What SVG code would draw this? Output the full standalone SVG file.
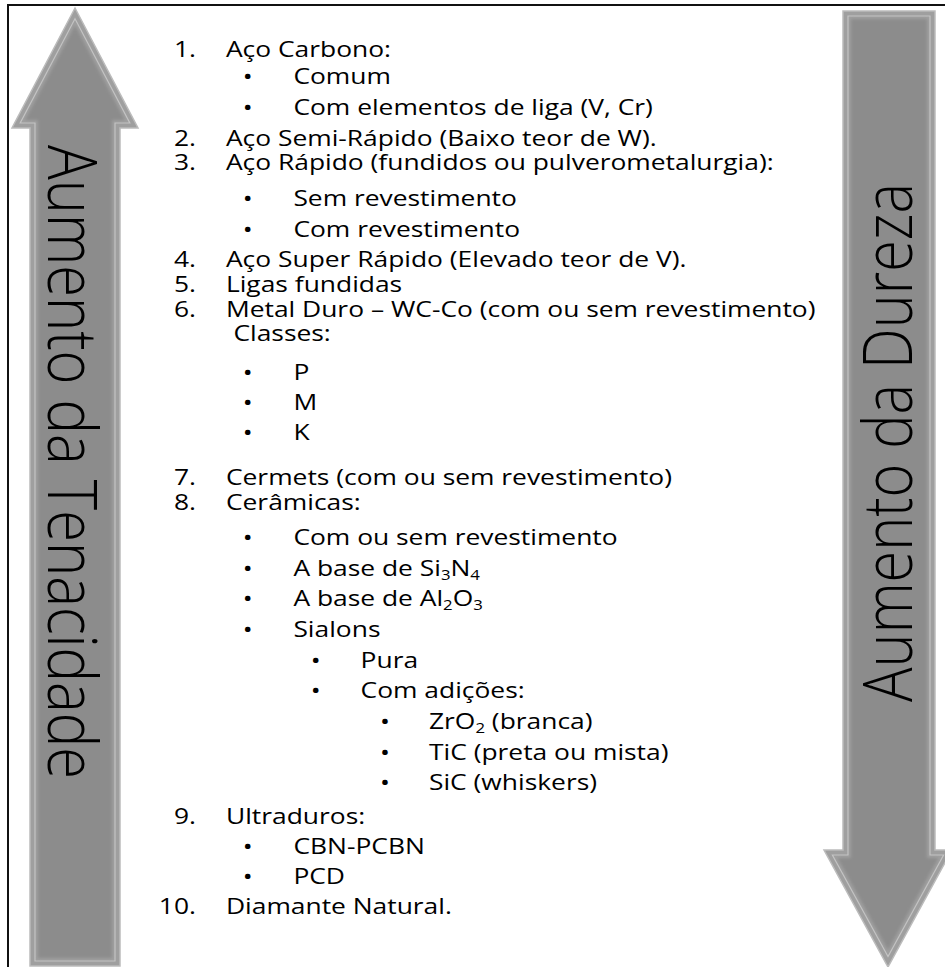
<svg xmlns="http://www.w3.org/2000/svg" width="945" height="967" viewBox="0 0 945 967">
  <style>
    .item { font-family: "Open Sans", "Liberation Sans", sans-serif; font-size: 22px; fill: #000; }
    .num { text-anchor: end; }
    .dot { text-anchor: middle; }
    .sub { font-size: 14px; }
    .big { font-family: "Open Sans", "Liberation Sans", sans-serif; font-weight: 300; font-size: 57px; fill: #000; }
    .arrow-edge { fill: #9f9f9f; stroke: #bcbcbc; stroke-width: 1.5; stroke-linejoin: miter; }
    .arrow-hl { fill: none; stroke: #c4c4c4; stroke-width: 1.2; }
    .arrow-core { fill: #8c8c8c; filter: url(#soft); }
  </style>
  <defs>
    <filter id="soft" x="-10%" y="-10%" width="120%" height="120%">
      <feGaussianBlur stdDeviation="1.8"/>
    </filter>
  </defs>

  <rect width="945" height="967" fill="#fff"/>
  <!-- frame -->
  <rect x="8" y="5" width="950" height="975" fill="none" stroke="#111" stroke-width="2"/>

  <!-- toughness arrow (up) -->
  <g id="arrow-tenacidade">
    <path class="arrow-edge" d="M75,8 L138,128 L120,128 L120,966 L30,966 L30,128 L12,128 Z"/>
    <path class="arrow-hl" d="M75,18.7 L129.8,123 L115,123 L115,961 L35,961 L35,123 L20.2,123 Z"/>
    <path class="arrow-core" d="M75,25.2 L124.8,120 L112,120 L112,958 L38,958 L38,120 L25.2,120 Z"/>
    <text class="big" transform="translate(48,145) scale(1.2,1) rotate(90)" textLength="634" lengthAdjust="spacingAndGlyphs">Aumento da Tenacidade</text>
  </g>

  <!-- hardness arrow (down) -->
  <g id="arrow-dureza">
    <path class="arrow-edge" d="M843,11 L935,11 L935,850 L952,850 L888,967 L824,850 L843,850 Z"/>
    <path class="arrow-hl" d="M848,16 L930,16 L930,855 L943.6,855 L888,956.6 L832.4,855 L848,855 Z"/>
    <path class="arrow-core" d="M851,19 L927,19 L927,858 L938.5,858 L888,950.3 L837.5,858 L851,858 Z"/>
    <text class="big" transform="translate(912,702) scale(1.2,1) rotate(-90)" textLength="519" lengthAdjust="spacingAndGlyphs">Aumento da Dureza</text>
  </g>

  <!-- tool material list, drawn with a horizontal stretch -->
  <g id="lista" class="item" transform="scale(1.2,1)">
    <text class="num" x="163.3" y="57">1.</text>
    <text x="188.3" y="57">Aço Carbono:</text>
    <text class="dot" x="206.4" y="84">•</text>
    <text x="244.5" y="84">Comum</text>
    <text class="dot" x="206.4" y="115">•</text>
    <text x="244.5" y="115">Com elementos de liga (V, Cr)</text>

    <text class="num" x="163.3" y="146">2.</text>
    <text x="188.3" y="146">Aço Semi-Rápido (Baixo teor de W).</text>

    <text class="num" x="163.3" y="170">3.</text>
    <text x="188.3" y="170">Aço Rápido (fundidos ou pulverometalurgia):</text>
    <text class="dot" x="206.4" y="206">•</text>
    <text x="244.5" y="206">Sem revestimento</text>
    <text class="dot" x="206.4" y="237">•</text>
    <text x="244.5" y="237">Com revestimento</text>

    <text class="num" x="163.3" y="267">4.</text>
    <text x="188.3" y="267">Aço Super Rápido (Elevado teor de V).</text>
    <text class="num" x="163.3" y="292">5.</text>
    <text x="188.3" y="292">Ligas fundidas</text>
    <text class="num" x="163.3" y="317">6.</text>
    <text x="188.3" y="317">Metal Duro – WC-Co (com ou sem revestimento)</text>
    <text x="194.5" y="341">Classes:</text>
    <text class="dot" x="206.4" y="380">•</text>
    <text x="244.5" y="380">P</text>
    <text class="dot" x="206.4" y="410">•</text>
    <text x="244.5" y="410">M</text>
    <text class="dot" x="206.4" y="440">•</text>
    <text x="244.5" y="440">K</text>

    <text class="num" x="163.3" y="485">7.</text>
    <text x="188.3" y="485">Cermets (com ou sem revestimento)</text>
    <text class="num" x="163.3" y="510">8.</text>
    <text x="188.3" y="510">Cerâmicas:</text>
    <text class="dot" x="206.4" y="545">•</text>
    <text x="244.5" y="545">Com ou sem revestimento</text>
    <text class="dot" x="206.4" y="576">•</text>
    <text x="244.5" y="576">A base de Si<tspan class="sub" dy="4">3</tspan><tspan dy="-4">N</tspan><tspan class="sub" dy="4">4</tspan></text>
    <text class="dot" x="206.4" y="606">•</text>
    <text x="244.5" y="606">A base de Al<tspan class="sub" dy="4">2</tspan><tspan dy="-4">O</tspan><tspan class="sub" dy="4">3</tspan></text>
    <text class="dot" x="206.4" y="637">•</text>
    <text x="244.5" y="637">Sialons</text>
    <text class="dot" x="263" y="668">•</text>
    <text x="300.5" y="668">Pura</text>
    <text class="dot" x="263" y="698">•</text>
    <text x="300.5" y="698">Com adições:</text>
    <text class="dot" x="320.8" y="729">•</text>
    <text x="357.5" y="729">ZrO<tspan class="sub" dy="4">2</tspan><tspan dy="-4"> (branca)</tspan></text>
    <text class="dot" x="320.8" y="760">•</text>
    <text x="357.5" y="760">TiC (preta ou mista)</text>
    <text class="dot" x="320.8" y="790">•</text>
    <text x="357.5" y="790">SiC (whiskers)</text>

    <text class="num" x="163.3" y="824">9.</text>
    <text x="188.3" y="824">Ultraduros:</text>
    <text class="dot" x="206.4" y="854">•</text>
    <text x="244.5" y="854">CBN-PCBN</text>
    <text class="dot" x="206.4" y="884">•</text>
    <text x="244.5" y="884">PCD</text>
    <text class="num" x="163.3" y="914">10.</text>
    <text x="188.3" y="914">Diamante Natural.</text>
  </g>
</svg>
